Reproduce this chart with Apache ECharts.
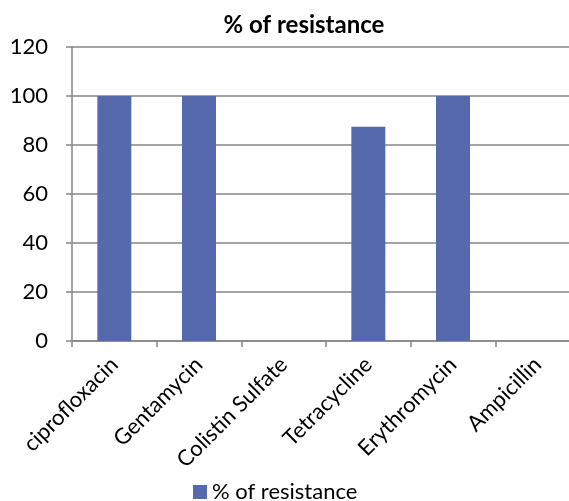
<!DOCTYPE html>
<html><head><meta charset="utf-8">
<script src="https://cdn.jsdelivr.net/npm/echarts@6/dist/echarts.min.js"></script>
<style>html,body{margin:0;padding:0;background:#fff}#c{width:569px;height:501px}</style>
</head><body><div id="c"></div>
<script>
const categories = ["ciprofloxacin","Gentamycin","Colistin Sulfate","Tetracycline","Erythromycin","Ampicillin"];
const resistance = [100, 100, 0, 87.5, 100, 0];
const seriesName = "% of resistance";
const yTicks = {min: 0, max: 120, interval: 20};
const FONT = "Lato";
const chart = echarts.init(document.getElementById('c'));
chart.setOption({
  animation: false,
  title: {text: seriesName, left: 299, top: 8, textAlign: 'center',
    textStyle: {fontFamily: FONT, fontWeight: 'bold', fontSize: 24, color: '#000'}},
  grid: {left: 72, top: 47, bottom: 160, width: 508, outerBoundsMode: 'none', containLabel: false},
  legend: {data: [seriesName], top: 476, left: 188, itemWidth: 14, itemHeight: 14, itemGap: 5,
    icon: 'rect', textStyle: {fontFamily: FONT, fontSize: 22, color: '#000'}},
  xAxis: {type: 'category', data: categories,
    axisLine: {lineStyle: {color: '#868686', width: 1.5}},
    axisTick: {show: true, length: 6, lineStyle: {color: '#868686', width: 1.5}},
    axisLabel: {rotate: 45, fontFamily: FONT, fontSize: 22, color: '#000', margin: 20, interval: 0}},
  yAxis: {type: 'value', min: yTicks.min, max: yTicks.max, interval: yTicks.interval,
    axisLine: {show: true, lineStyle: {color: '#868686', width: 1.5}},
    axisTick: {show: true, length: 6, lineStyle: {color: '#868686', width: 1.5}},
    splitLine: {lineStyle: {color: '#868686', width: 1.5}},
    axisLabel: {fontFamily: FONT, fontSize: 22, color: '#000', margin: 24}},
  series: [{name: seriesName, type: 'bar', data: resistance, barWidth: 34,
    itemStyle: {color: '#5569AC'}}]
});
</script></body></html>
